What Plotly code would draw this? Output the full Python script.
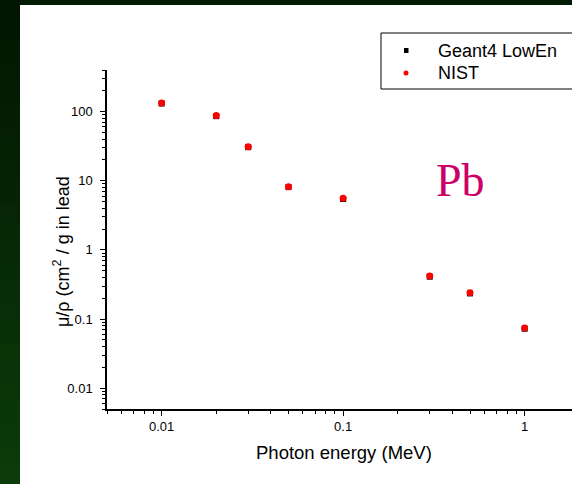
import numpy as np
import plotly.graph_objects as go

# Mass attenuation coefficient of lead vs photon energy
energy_mev = [0.01, 0.02, 0.03, 0.05, 0.1, 0.3, 0.5, 1.0]
nist_mu_rho = [133.0, 88.0, 31.0, 8.2, 5.6, 0.42, 0.24, 0.074]
geant4_mu_rho = [131.0, 86.0, 30.6, 8.1, 5.45, 0.41, 0.235, 0.0725]

x_tick_vals = [0.01, 0.1, 1]
x_tick_text = ["0.01", "0.1", "1"]
y_tick_vals = [0.01, 0.1, 1, 10, 100]
y_tick_text = ["0.01", "0.1", "1", "10", "100"]

W, H = 572, 484
L, R, T, B = 107, 572, 70, 409  # plot area in pixels


def px(xp):
    return (xp - L) / (R - L)


def py(yp):
    return (B - yp) / (B - T)


fig = go.Figure()

fig.add_trace(go.Scatter(
    x=energy_mev, y=geant4_mu_rho, mode="markers", name="Geant4 LowEn",
    marker=dict(symbol="square", size=6, color="black"), showlegend=False,
))
fig.add_trace(go.Scatter(
    x=energy_mev, y=nist_mu_rho, mode="markers", name="NIST",
    marker=dict(symbol="circle", size=7, color="#ff0000", line=dict(width=0)),
    showlegend=False,
))

axis_common = dict(
    type="log", showgrid=False, zeroline=False, showline=True,
    linecolor="black", linewidth=1.5, ticks="outside", ticklen=5,
    tickwidth=1, tickcolor="black", mirror=False,
    tickfont=dict(family="Liberation Sans, Arial", size=13, color="black"),
    minor=dict(ticks="outside", ticklen=3, tickwidth=1, tickcolor="black",
               dtick="D1", showgrid=False),
)

fig.update_xaxes(
    range=[np.log10(0.005), np.log10(0.005) + (R - L) / 181.5],
    tickmode="array", tickvals=x_tick_vals, ticktext=x_tick_text,
    **axis_common,
)
fig.update_yaxes(
    range=[np.log10(0.005), np.log10(400)],
    tickmode="array", tickvals=y_tick_vals, ticktext=y_tick_text,
    ticklabelstandoff=5,
    **axis_common,
)

shapes = []
# slide background: dark band along the top, green gradient strip on the left
shapes.append(dict(type="rect", xref="paper", yref="paper", layer="below",
                   x0=px(-5), x1=px(W + 5), y0=py(5), y1=py(-5),
                   fillcolor="#031a03", line=dict(width=0)))
n_bands = 24
top_c = np.array([2, 22, 2])
bot_c = np.array([12, 60, 10])
for i in range(n_bands):
    f = i / (n_bands - 1)
    c = (top_c * (1 - f) + bot_c * f).astype(int)
    y0p = i * H / n_bands
    y1p = (i + 1) * H / n_bands
    shapes.append(dict(type="rect", xref="paper", yref="paper", layer="below",
                       x0=px(-5), x1=px(20), y0=py(y1p + 1), y1=py(y0p),
                       fillcolor="rgb(%d,%d,%d)" % tuple(c), line=dict(width=0)))

# legend box and symbols
shapes.append(dict(type="rect", xref="paper", yref="paper",
                   x0=px(381), x1=px(W + 10), y0=py(89), y1=py(33),
                   line=dict(color="black", width=1), fillcolor="white"))
shapes.append(dict(type="rect", xref="paper", yref="paper",
                   x0=px(404), x1=px(408.5), y0=py(53), y1=py(48),
                   fillcolor="black", line=dict(width=0)))
shapes.append(dict(type="circle", xref="paper", yref="paper",
                   x0=px(403.5), x1=px(408.5), y0=py(75.5), y1=py(70.5),
                   fillcolor="#ff0000", line=dict(width=0)))

annotations = [
    dict(text="Geant4 LowEn", x=px(436), y=py(50.5), xref="paper", yref="paper",
         xanchor="left", yanchor="middle", showarrow=False,
         font=dict(family="Liberation Sans, Arial", size=18, color="black")),
    dict(text="NIST", x=px(436), y=py(73), xref="paper", yref="paper",
         xanchor="left", yanchor="middle", showarrow=False,
         font=dict(family="Liberation Sans, Arial", size=18, color="black")),
    dict(text="Pb", x=px(460), y=py(180), xref="paper", yref="paper",
         xanchor="center", yanchor="middle", showarrow=False,
         font=dict(family="Liberation Serif, Times New Roman", size=46,
                   color="#cc0066")),
    dict(text="Photon energy (MeV)", x=px(343.5), y=py(452), xref="paper",
         yref="paper", xanchor="center", yanchor="middle", showarrow=False,
         font=dict(family="Liberation Sans, Arial", size=18.5, color="black")),
    dict(text="\u03bc/\u03c1 (cm<sup>2</sup> / g in lead", x=px(61), y=py(252),
         xref="paper", yref="paper", xanchor="center", yanchor="middle",
         textangle=-90, showarrow=False,
         font=dict(family="Liberation Sans, Arial", size=18, color="black")),
]

fig.update_layout(
    width=W, height=H,
    margin=dict(l=L, r=W - R, t=T, b=H - B, pad=0),
    paper_bgcolor="white", plot_bgcolor="white",
    showlegend=False, shapes=shapes, annotations=annotations,
)

fig.write_html("out.html")
